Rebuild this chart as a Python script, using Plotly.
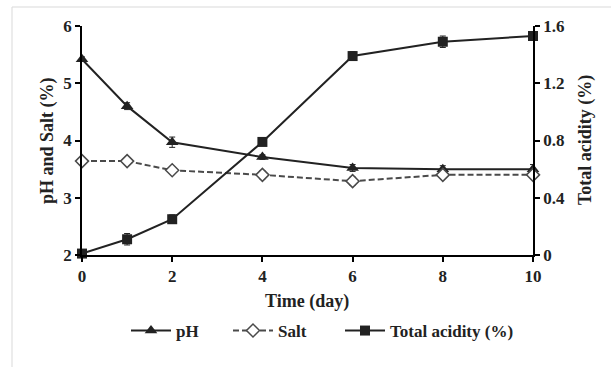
import plotly.graph_objects as go

days = [0, 1, 2, 4, 6, 8, 10]
ph = [5.42, 4.60, 3.97, 3.71, 3.52, 3.50, 3.50]
ph_err = [0.04, 0.06, 0.09, 0.04, 0.06, 0.06, 0.08]
salt = [3.64, 3.64, 3.48, 3.40, 3.29, 3.40, 3.40]
salt_err = [0.02, 0.02, 0.03, 0.07, 0.07, 0.06, 0.05]
acid = [0.01, 0.11, 0.25, 0.79, 1.39, 1.49, 1.53]
acid_err = [0.01, 0.04, 0.03, 0.02, 0.03, 0.04, 0.01]

x_ticks = [0, 2, 4, 6, 8, 10]
y_ticks = [2, 3, 4, 5, 6]
y2_ticks = [0, 0.4, 0.8, 1.2, 1.6]
y2_labels = ["0", "0.4", "0.8", "1.2", "1.6"]

FONT = "Liberation Serif"
C = "#222222"
W, H = 611, 367
L, R, T, B = 82, 78, 26, 112
pw, ph_ = W - L - R, H - T - B

def px2paper_x(px):
    return (px - L) / pw

def px2paper_y(py):
    return (H - B - py) / ph_

fig = go.Figure()
fig.add_trace(go.Scatter(
    x=days, y=ph, name="<b>pH</b>", mode="lines+markers", legend="legend",
    line=dict(color=C, width=2),
    marker=dict(symbol="triangle-up", size=11, color=C),
    error_y=dict(type="data", array=ph_err, color=C, thickness=1, width=3),
    cliponaxis=False))
fig.add_trace(go.Scatter(
    x=days, y=salt, name="<b>Salt</b>", mode="lines+markers", legend="legend2",
    line=dict(color="#4a4a4a", width=2, dash="6px,3px"),
    marker=dict(symbol="diamond", size=10, color="white", line=dict(color="#4a4a4a", width=1.5)),
    error_y=dict(type="data", array=salt_err, color=C, thickness=1, width=3),
    cliponaxis=False))
fig.add_trace(go.Scatter(
    x=days, y=acid, name="<b>Total acidity (%)</b>", mode="lines+markers", yaxis="y2", legend="legend3",
    line=dict(color=C, width=2),
    marker=dict(symbol="square", size=10, color=C),
    error_y=dict(type="data", array=acid_err, color=C, thickness=1, width=3),
    cliponaxis=False))

axis_common = dict(showline=True, linecolor="black", linewidth=1.5, ticks="outside",
                   ticklen=5, tickwidth=1.5, tickcolor="black", showgrid=False, zeroline=False,
                   automargin=False,
                   tickfont=dict(family=FONT, size=17, color=C))
title_font = dict(family=FONT, size=18, color=C)

def leg(px):
    return dict(orientation="h", x=px2paper_x(px), xanchor="left", y=px2paper_y(331), yanchor="middle",
                font=dict(family=FONT, size=17, color=C), bgcolor="rgba(0,0,0,0)", itemwidth=40)

fig.update_layout(
    width=W, height=H,
    margin=dict(l=L, r=R, t=T, b=B, autoexpand=False),
    paper_bgcolor="white", plot_bgcolor="white",
    font=dict(family=FONT, color=C),
    showlegend=True,
    xaxis=dict(range=[0, 10], tickvals=x_ticks, ticktext=[f"<b>{v}</b>" for v in x_ticks],
               **axis_common),
    yaxis=dict(range=[2, 6], tickvals=y_ticks, ticktext=[f"<b>{v}</b>" for v in y_ticks],
               **axis_common),
    yaxis2=dict(range=[0, 1.6], tickvals=y2_ticks, ticktext=[f"<b>{v}</b>" for v in y2_labels],
                overlaying="y", side="right",
                **axis_common),
    legend=leg(126),
    legend2=leg(228),
    legend3=leg(340),
    annotations=[
        dict(text="<b>Time (day)</b>", xref="paper", yref="paper",
             x=px2paper_x(307), y=px2paper_y(301), xanchor="center", yanchor="middle",
             showarrow=False, font=title_font),
        dict(text="<b>pH and Salt (%)</b>", xref="paper", yref="paper",
             x=px2paper_x(47), y=px2paper_y(141), xanchor="center", yanchor="middle",
             textangle=-90, showarrow=False, font=title_font),
        dict(text="<b>Total acidity (%)</b>", xref="paper", yref="paper",
             x=px2paper_x(585), y=px2paper_y(140), xanchor="center", yanchor="middle",
             textangle=-90, showarrow=False, font=title_font),
    ],
    shapes=[dict(type="rect", xref="paper", yref="paper",
                 x0=px2paper_x(12), x1=px2paper_x(612), y0=px2paper_y(375), y1=px2paper_y(7),
                 line=dict(color="#d9d9d9", width=1), fillcolor="rgba(0,0,0,0)", layer="below")],
)

fig.write_html("out.html", post_script="document.body.style.margin='0';",
               config={"displayModeBar": False})
